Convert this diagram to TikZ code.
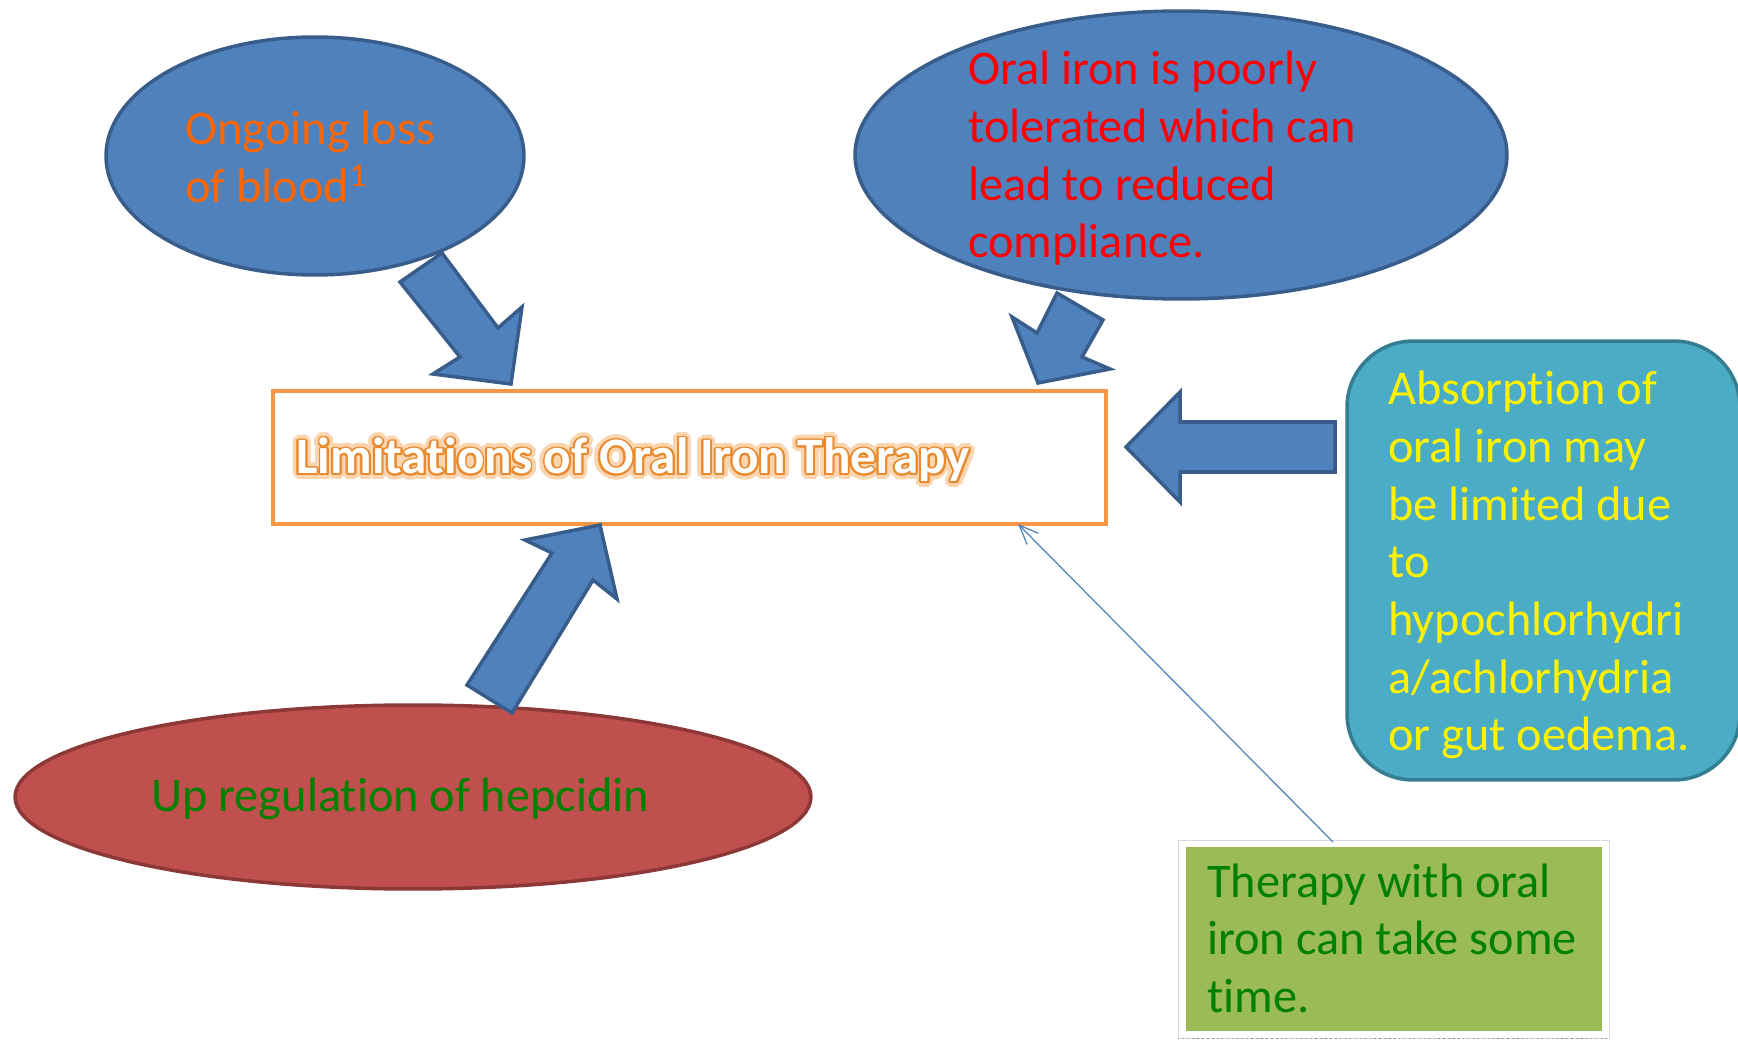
\documentclass[tikz,border=0pt]{standalone}
\usepackage{fontspec}
\setmainfont{Carlito}[Ligatures={NoCommon}]
\usepackage{contour}
\usetikzlibrary{shapes.geometric,arrows.meta}
\definecolor{bluefill}{HTML}{4F81BD}
\definecolor{blueline}{HTML}{385D8A}
\definecolor{tealfill}{HTML}{4BACC6}
\definecolor{tealline}{HTML}{357D91}
\definecolor{redfill}{HTML}{C0504D}
\definecolor{redline}{HTML}{8C3836}
\definecolor{greenfill}{HTML}{9BBB59}
\definecolor{rectorange}{HTML}{F79646}
\definecolor{titleorange}{HTML}{E98A2E}
\definecolor{glow}{HTML}{FBD5B0}
\definecolor{txtorange}{HTML}{FF6600}
\definecolor{txtgreen}{HTML}{008000}
\begin{document}
\begin{tikzpicture}[x=0.02cm,y=-0.02cm,
  txt/.style={anchor=base west, inner sep=0pt, align=left, text width=14cm,
    font=\fontsize{27.5}{32.8}\selectfont,
    execute at begin node={\spaceskip=0.226em\relax\xspaceskip=0.226em\relax}},
  titletxt/.style={anchor=base west, inner sep=0pt, font=\bfseries\fontsize{29.1}{34}\selectfont},
  blob/.style={ellipse, fill=bluefill, draw=blueline, line width=2pt, inner sep=0pt},
  blockarrow/.style={fill=bluefill, draw=blueline, line width=2pt, line join=miter}]
\useasboundingbox (0,0) rectangle (1738,1040);

% right rounded box
\node[rectangle, rounded corners=1.32cm, fill=tealfill, draw=tealline, line width=2pt,
  minimum width=7.86cm, minimum height=8.78cm, inner sep=0pt] (abs) at (1543.5,560.5) {};
\node[txt, text=yellow] (abstxt) at (1388,405) {Absorption of\\oral iron may\\be limited due\\to\\hypochlorhydri\\a/achlorhydria\\or gut oedema.};

% green box with frame
\node[rectangle, draw=black!15, line width=0.4pt, fill=white,
  minimum width=8.62cm, minimum height=3.96cm, inner sep=0pt] (frame) at (1393.5,939) {};
\draw[black!45, dotted, line width=0.8pt] (frame.south west) -- (frame.south east);
\node[rectangle, fill=greenfill, minimum width=8.32cm, minimum height=3.68cm, inner sep=0pt] (therapy) at (1394,939) {};
\node[txt, text=txtgreen] (therapytxt) at (1207,897) {Therapy with oral\\iron can take some\\time.};

% main rectangle
\node[rectangle, draw=rectorange, line width=2.3pt, fill=white,
  minimum width=16.66cm, minimum height=2.66cm, inner sep=0pt] (main) at (689.5,457.5) {};
\node[titletxt] (titleglow) at (296,474)
  {\contourlength{3.2pt}\contour{glow}{\textcolor{glow}{Limitations of Oral Iron Therapy}}};
\node[titletxt] (title) at (296,474)
  {\contourlength{1.1pt}\contour{titleorange}{\textcolor{white}{Limitations of Oral Iron Therapy}}};

% block arrows under top ellipses
\draw[blockarrow] (442,253) -- (498,328) -- (522,307) -- (511,384) -- (433,374) -- (460,357) -- (400,282) -- cycle;
\draw[blockarrow] (1057,293) -- (1103,320) -- (1082,357) -- (1110,369) -- (1038,383) -- (1012,317) -- (1037,333) -- cycle;
\draw[blockarrow] (1126,447) -- (1180,392) -- (1180,422) -- (1335,422) -- (1335,472) -- (1180,472) -- (1180,502) -- cycle;

% ellipses
\node[blob, minimum width=8.36cm, minimum height=4.76cm] (loss) at (315,156) {};
\node[txt, text=txtorange] (losstxt) at (185,145) {Ongoing loss\\of blood\textsuperscript{1}};

\node[blob, minimum width=13.04cm, minimum height=5.76cm] (oral) at (1181,155) {};
\node[txt, text=red] (oraltxt) at (968,85) {Oral iron is poorly\\tolerated which can\\lead to reduced\\compliance.};

\node[ellipse, fill=redfill, draw=redline, line width=2pt, inner sep=0pt,
  minimum width=15.92cm, minimum height=3.68cm] (hep) at (413,797) {};
\node[txt, text=txtgreen] (heptxt) at (151,811) {Up regulation of hepcidin};

% block arrow from bottom ellipse
\draw[blockarrow] (467,685) -- (512,713) -- (593,580) -- (617,599) -- (600,525) -- (525,540) -- (552,553) -- cycle;

% thin connector
\coordinate (thinstart) at (1333,842);
\coordinate (thinend) at (1018,524);
\draw[bluefill, line width=0.7pt, -{Straight Barb[length=11pt,width=9pt]}] (thinstart) -- (thinend);
\end{tikzpicture}
\end{document}
